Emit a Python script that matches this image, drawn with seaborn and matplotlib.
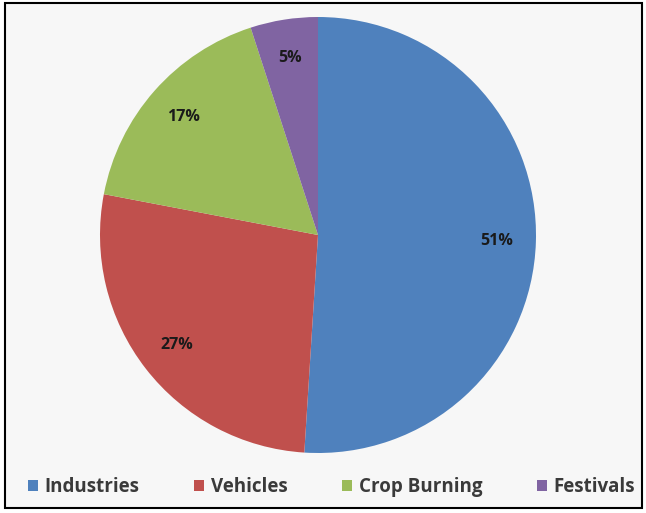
import matplotlib
matplotlib.use("Agg")
import matplotlib.pyplot as plt
import seaborn as sns
from matplotlib.patches import Rectangle, Patch

categories = ["Industries", "Vehicles", "Crop Burning", "Festivals"]
values = [51, 27, 17, 5]
colors = ["#4F81BD", "#C0504D", "#9BBB59", "#8064A2"]

sns.set_theme(style="white")
plt.rcParams['font.family'] = ['Open Sans', 'DejaVu Sans']

W, H = 646, 513
fig = plt.figure(figsize=(W/100, H/100), dpi=100)
fig.patch.set_facecolor("white")
fig.patches.append(Rectangle((5/W, 1 - 508/H), 637/W, 505/H, transform=fig.transFigure,
                             facecolor="#F7F7F7", edgecolor="black", linewidth=1.5, zorder=-5))

cx, cy, r = 318, 235, 218
ax = fig.add_axes([(cx - r)/W, 1 - (cy + r)/H, 2*r/W, 2*r/H])
ax.set_zorder(5)
ax.set_facecolor("none")
wedges, texts, autotexts = ax.pie(values, colors=sns.color_palette(colors), startangle=90,
                                  counterclock=False, autopct=lambda p: f"{p:.0f}%",
                                  pctdistance=0.82, wedgeprops=dict(linewidth=0))
for t in autotexts:
    t.set_fontsize(11.5)
    t.set_fontweight("bold")
    t.set_color("#1a1a1a")
ax.set_xlim(-1, 1)
ax.set_ylim(-1, 1)
ax.set_aspect("equal")
ax.axis("off")

handles = [Patch(facecolor=c, edgecolor="none") for c in colors]
leg = fig.legend(handles, categories, loc="center", bbox_to_anchor=(0.513, 1 - 487/H), ncol=4,
                 frameon=False, handlelength=0.55, handleheight=0.55, handletextpad=0.35,
                 columnspacing=2.9, prop=dict(size=13.5, weight="bold"), labelcolor="#3a3a3a")
leg.set_zorder(6)

fig.savefig("out.png", dpi=100, facecolor=fig.get_facecolor())
